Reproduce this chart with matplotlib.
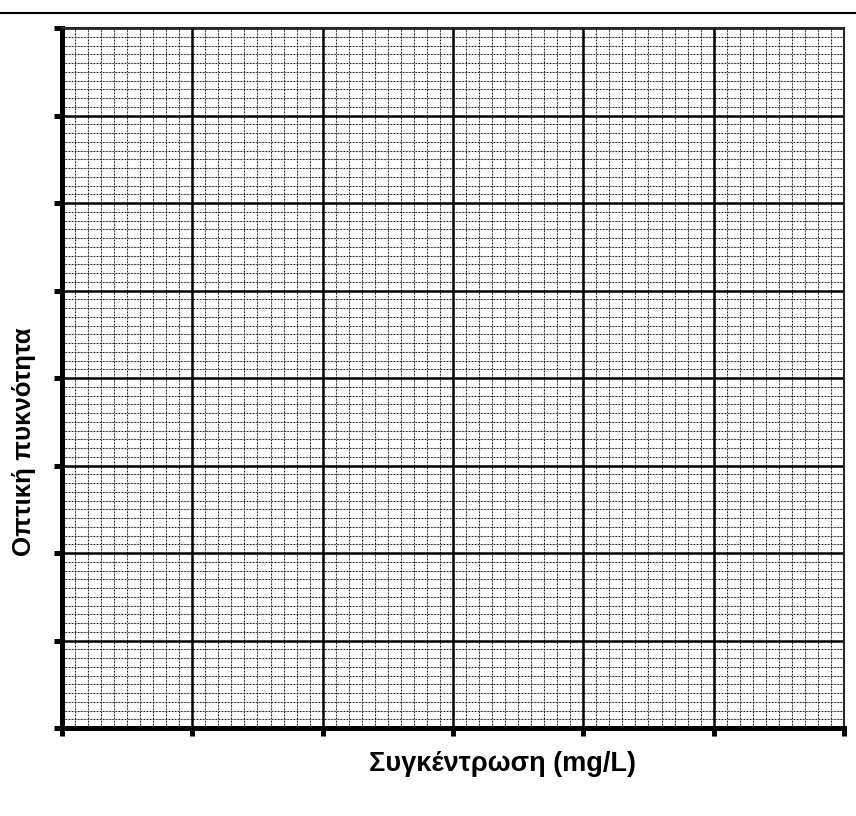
import matplotlib
matplotlib.use("Agg")
import matplotlib.pyplot as plt
from matplotlib.lines import Line2D
import numpy as np

# Blank calibration sheet: concentration (x) vs optical density (y)
x_major = [0, 1, 2, 3, 4, 5, 6]
y_major = [0, 1, 2, 3, 4, 5, 6, 7, 8]
minor_per_major = 10
x_label = "Συγκέντρωση (mg/L)"
y_label = "Οπτική πυκνότητα"

plt.rcParams["font.family"] = ["Liberation Sans", "DejaVu Sans"]

fig = plt.figure(figsize=(8.56, 8.16), dpi=100)
ax = fig.add_axes([62 / 856, 1 - 728 / 816, (844 - 62) / 856, (728 - 28) / 816])

ax.set_xlim(x_major[0], x_major[-1])
ax.set_ylim(y_major[0], y_major[-1])

x_minor = np.linspace(x_major[0], x_major[-1], (len(x_major) - 1) * minor_per_major + 1)
y_minor = np.linspace(y_major[0], y_major[-1], (len(y_major) - 1) * minor_per_major + 1)

# minor graph-paper lines: grey base with dark dashes on top
for xv in x_minor:
    ax.axvline(xv, color="0.72", lw=0.75, zorder=1)
    ax.axvline(xv, color="0.1", lw=0.75, dashes=(1.2, 1.8), zorder=1.1)
for yv in y_minor:
    ax.axhline(yv, color="0.72", lw=0.75, zorder=1)
    ax.axhline(yv, color="0.1", lw=0.75, dashes=(1.2, 1.8), zorder=1.1)

# major lines
for xv in x_major:
    ax.axvline(xv, color="black", lw=1.8, zorder=2)
for yv in y_major:
    ax.axhline(yv, color="black", lw=1.8, zorder=2)

ax.set_xticks(x_major)
ax.set_yticks(y_major)
ax.set_xticklabels([])
ax.set_yticklabels([])
ax.tick_params(axis="both", direction="out", length=6, width=3.6, color="black")

for side in ("left", "bottom"):
    ax.spines[side].set_linewidth(3.6)
for side in ("top", "right"):
    ax.spines[side].set_linewidth(1.5)
    ax.spines[side].set_color("0.15")
for s in ax.spines.values():
    s.set_zorder(3)

fig.text(502 / 856, 1 - 764 / 816, x_label, ha="center", va="center",
         fontsize=19.5, fontweight="bold")
fig.text(24 / 856, 1 - 442 / 816, y_label, ha="center", va="center",
         rotation=90, fontsize=18.6, fontweight="bold")

# rule across the top of the page
fig.add_artist(Line2D([0, 1], [1 - 12.5 / 816, 1 - 12.5 / 816],
                      transform=fig.transFigure, color="black", lw=1.5))

fig.savefig("out.png", dpi=100, facecolor="white")
